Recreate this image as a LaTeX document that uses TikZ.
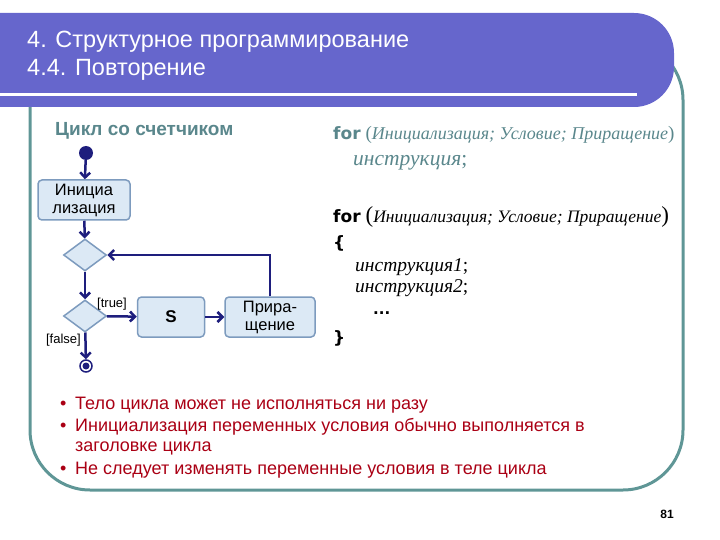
\documentclass[tikz,border=0pt]{standalone}
\usepackage{fontspec}
\setmainfont{Liberation Sans}
\newfontfamily\codefont{Liberation Serif}
\newfontfamily\widefont{DejaVu Sans}
\usetikzlibrary{shapes.geometric,arrows.meta}
\definecolor{band}{RGB}{102,102,204}
\definecolor{frame}{RGB}{95,150,150}
\definecolor{headtext}{RGB}{90,135,140}
\definecolor{navy}{RGB}{30,30,125}
\definecolor{boxfill}{RGB}{220,233,245}
\definecolor{boxline}{RGB}{125,155,190}
\definecolor{bulred}{RGB}{170,0,20}

\begin{document}
\begin{tikzpicture}[x=1pt, y=-1pt,
    box/.style = {draw=boxline, fill=boxfill, rounded corners=4pt, line width=1.5pt, align=center, inner sep=2pt, font=\fontsize{16.5}{18}\selectfont},
    dec/.style = {diamond, draw=boxline, fill=boxfill, line width=1.5pt, minimum width=43pt, minimum height=32pt, inner sep=0pt},
    flow/.style = {draw=navy, line width=2.5pt, -{Straight Barb[length=5pt, width=10pt]}},
    lbl/.style = {font=\fontsize{13}{14}\selectfont, inner sep=0pt},
    code/.style = {anchor=west, inner sep=0pt},
    bul/.style = {anchor=west, inner sep=0pt, text=bulred, font=\fontsize{18}{20}\selectfont}]
  \useasboundingbox (0,0) rectangle (720,540);
  % frame and title band
  \draw[frame, line width=3pt, rounded corners=60pt] (30,40) rectangle (683,490);
  \fill[band, rounded corners=40pt] (-60,13) rectangle (674,107);
  \draw[white, line width=3pt] (0,95) -- (637,95);
  \node[anchor=west, text=white, align=left, inner sep=0pt, font=\fontsize{23.5}{28}\selectfont] (title) at (27,56) {4. Структурное программирование\\4.4. Повторение};
  \node[anchor=west, text=headtext, inner sep=0pt, font=\bfseries\fontsize{19}{20}\selectfont] (head) at (55,131) {Цикл со счетчиком};

  % flowchart
  \node[circle, fill=navy, inner sep=0pt, minimum size=14pt] (start) at (86,153) {};
  \node[box, minimum width=92pt, minimum height=40pt] (init) at (84,200) {Инициа\\лизация};
  \node[dec] (d1) at (85,255) {};
  \node[dec] (d2) at (85,316) {};
  \node[box, minimum width=67pt, minimum height=40pt, font=\bfseries\fontsize{17}{18}\selectfont] (s) at (171,317) {S};
  \node[box, minimum width=90pt, minimum height=40pt] (inc) at (270,317) {Прира-\\щение};
  \node[circle, draw=navy, line width=1.5pt, inner sep=0pt, minimum size=12pt] (stop) at (86,366) {};
  \fill[navy] (stop) circle (3.5pt);
  \draw[flow] (start) -- (init);
  \draw[flow] (init) -- (d1);
  \draw[flow] (d1) -- (d2);
  \draw[flow] (d2) -- (s);
  \node[lbl, anchor=south west] (true) at (97,310) {[true]};
  \draw[flow] (s) -- (inc);
  \draw[flow] (inc.north) |- (d1.east);
  \draw[flow] (d2) -- (stop);
  \node[lbl, anchor=east] (false) at (81,340) {[false]};

  % code
  \node[code, text=headtext] (for1) at (333,135) {{\widefont\bfseries\fontsize{17}{18}\selectfont for}\hspace{5pt}{\codefont\fontsize{19}{18}\selectfont (\itshape\fontsize{18}{18}\selectfont Инициализация; Условие; Приращение\upshape\fontsize{19}{18}\selectfont)}};
  \node[code, text=headtext] (ins) at (353,163) {\codefont\itshape\fontsize{21.5}{22}\selectfont инструкция\upshape;};
  \node[code] (for2) at (333,217) {{\widefont\bfseries\fontsize{17}{18}\selectfont for}\hspace{5pt}{\codefont\fontsize{23}{18}\selectfont (\itshape\fontsize{17.5}{18}\selectfont Инициализация; Условие; Приращение\upshape\fontsize{23}{18}\selectfont)}};
  \node[code] (open) at (333,243) {\widefont\bfseries\fontsize{17}{18}\selectfont \{};
  \node[code] (ins1) at (355,267) {\codefont\itshape\fontsize{19.5}{20}\selectfont инструкция1\upshape;};
  \node[code] (ins2) at (355,288) {\codefont\itshape\fontsize{19.5}{20}\selectfont инструкция2\upshape;};
  \node[code] (dots) at (373,313) {\widefont\bfseries\fontsize{15}{18}\selectfont ...};
  \node[code] (close) at (333,338) {\widefont\bfseries\fontsize{17}{18}\selectfont \}};

  % notes
  \node[bul] (b1) at (60,405) {•};
  \node[bul] (t1) at (75,405) {Тело цикла может не исполняться ни разу};
  \node[bul] (b2) at (60,427) {•};
  \node[bul] (t2) at (75,427) {Инициализация переменных условия обычно выполняется в};
  \node[bul] (t3) at (75,448) {заголовке цикла};
  \node[bul] (b4) at (60,470) {•};
  \node[bul] (t4) at (75,470) {Не следует изменять переменные условия  в теле цикла};
  \node[font=\bfseries\fontsize{12}{12}\selectfont] (page) at (667,514) {81};
\end{tikzpicture}
\end{document}
